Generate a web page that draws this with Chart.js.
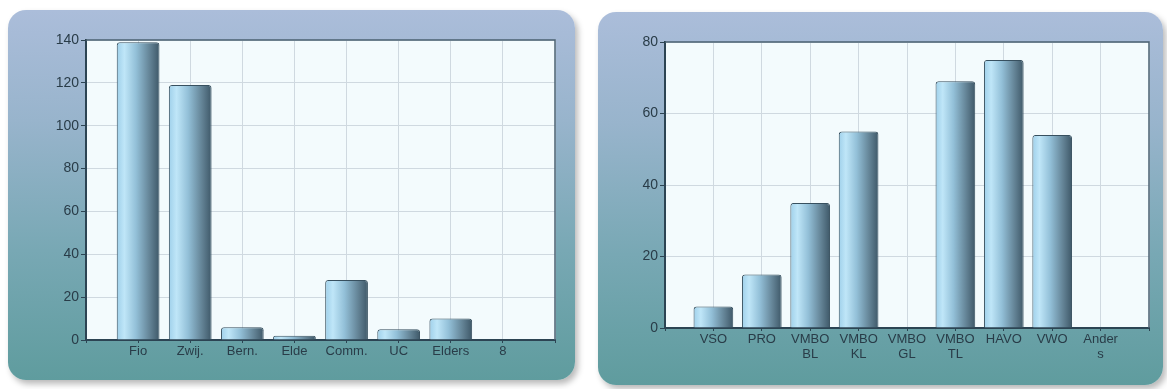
<!DOCTYPE html>
<html>
<head>
<meta charset="utf-8">
<script src="https://cdn.jsdelivr.net/npm/chart.js@4"></script>
<style>
  html, body { margin: 0; padding: 0; background: #fff; }
  body { width: 1167px; height: 389px; position: relative; overflow: hidden; }
  .panel {
    position: absolute;
    border-radius: 18px;
    background: linear-gradient(to bottom, #abbdda 0%, #98b4cc 30%, #78a8b4 65%, #5f9c9e 100%);
    box-shadow: 3px 4px 6px rgba(0, 0, 0, 0.28);
  }
  .panel canvas { position: absolute; left: 0; top: 0; }
  #p1 { left: 8px; top: 10px; width: 567px; height: 370px; }
  #p2 { left: 598px; top: 12px; width: 565px; height: 373px; }
</style>
</head>
<body>
<div class="panel" id="p1"><canvas id="c1" width="567" height="370"></canvas></div>
<div class="panel" id="p2"><canvas id="c2" width="565" height="373"></canvas></div>
<script>
// data
const leftCategories = ['Fio', 'Zwij.', 'Bern.', 'Elde', 'Comm.', 'UC', 'Elders', '8'];
const leftValues = [139, 119, 6, 2, 28, 5, 10, 0];
const leftMax = 140;
const leftStep = 20;

const rightCategories = ['VSO', 'PRO', ['VMBO', 'BL'], ['VMBO', 'KL'], ['VMBO', 'GL'], ['VMBO', 'TL'], 'HAVO', 'VWO', ['Ander', 's']];
const rightValues = [6, 15, 35, 55, 0, 69, 75, 54, 0];
const rightMax = 80;
const rightStep = 20;

const BAR_PCT = 0.82;
const TEXT = '#293c48';
const AXIS = '#2c4453';
const FONT = "'Liberation Sans', Arial, sans-serif";

// light plot background + dark frame
const plotFrame = {
    id: 'plotFrame',
    beforeDraw: function (chart) {
        const a = chart.chartArea;
        const c = chart.ctx;
        c.save();
        c.fillStyle = '#f3fbfd';
        c.fillRect(a.left, a.top, a.right - a.left, a.bottom - a.top);
        c.restore();
    },
    afterDraw: function (chart) {
        const a = chart.chartArea;
        const c = chart.ctx;
        c.save();
        c.strokeStyle = '#4b6272';
        c.lineWidth = 1.5;
        c.beginPath();
        c.moveTo(a.left, a.top);
        c.lineTo(a.right, a.top);
        c.lineTo(a.right, a.bottom);
        c.stroke();
        c.restore();
    }
};

// cylinder-like shading across each bar
function barFill(context) {
    const chart = context.chart;
    const x = chart.scales.x;
    if (!chart.chartArea || !x) return '#9cc9df';
    const spacing = x.getPixelForValue(1) - x.getPixelForValue(0);
    const w = spacing * BAR_PCT;
    const cx = x.getPixelForValue(context.dataIndex);
    const g = chart.ctx.createLinearGradient(cx - w / 2, 0, cx + w / 2, 0);
    g.addColorStop(0, '#9fd0ea');
    g.addColorStop(0.18, '#bfe6f8');
    g.addColorStop(0.45, '#93c0d8');
    g.addColorStop(0.8, '#5f7e90');
    g.addColorStop(1, '#3e5868');
    return g;
}

function makeChart(canvasId, categories, values, yMax, yStep, pad, yWidth, xHeight) {
    const labels = [''].concat(categories, ['']);
    const data = [null].concat(values, [null]);
    return new Chart(document.getElementById(canvasId), {
        type: 'bar',
        data: {
            labels: labels,
            datasets: [{
                data: data,
                backgroundColor: barFill,
                borderColor: '#37505f',
                borderWidth: 1,
                borderRadius: 3,
                borderSkipped: 'bottom',
                categoryPercentage: 1,
                barPercentage: BAR_PCT
            }]
        },
        options: {
            responsive: false,
            animation: false,
            layout: { padding: pad },
            plugins: {
                legend: { display: false },
                tooltip: { enabled: false }
            },
            scales: {
                x: {
                    offset: false,
                    afterFit: function (s) { s.height = xHeight; },
                    grid: {
                        offset: false,
                        color: function (ctx) {
                            return ctx.index === 0 ? 'rgba(0,0,0,0)' : '#cfd9e0';
                        },
                        tickColor: AXIS,
                        tickLength: 3
                    },
                    border: { color: AXIS, width: 2 },
                    ticks: {
                        autoSkip: false,
                        maxRotation: 0,
                        padding: 1,
                        color: TEXT,
                        font: { family: FONT, size: 13, lineHeight: 1.15 }
                    }
                },
                y: {
                    min: 0,
                    max: yMax,
                    afterFit: function (s) { s.width = yWidth; },
                    grid: {
                        color: function (ctx) {
                            return ctx.index === 0 ? 'rgba(0,0,0,0)' : '#cfd9e0';
                        },
                        tickColor: AXIS,
                        tickLength: 5
                    },
                    border: { color: AXIS, width: 2 },
                    ticks: {
                        stepSize: yStep,
                        padding: 2,
                        color: TEXT,
                        font: { family: FONT, size: 14 }
                    }
                }
            }
        },
        plugins: [plotFrame]
    });
}

makeChart('c1', leftCategories, leftValues, leftMax, leftStep,
    { left: 0, top: 30, right: 20, bottom: 0 }, 78, 40);
makeChart('c2', rightCategories, rightValues, rightMax, rightStep,
    { left: 0, top: 30, right: 14, bottom: 0 }, 67, 57);
</script>
</body>
</html>
